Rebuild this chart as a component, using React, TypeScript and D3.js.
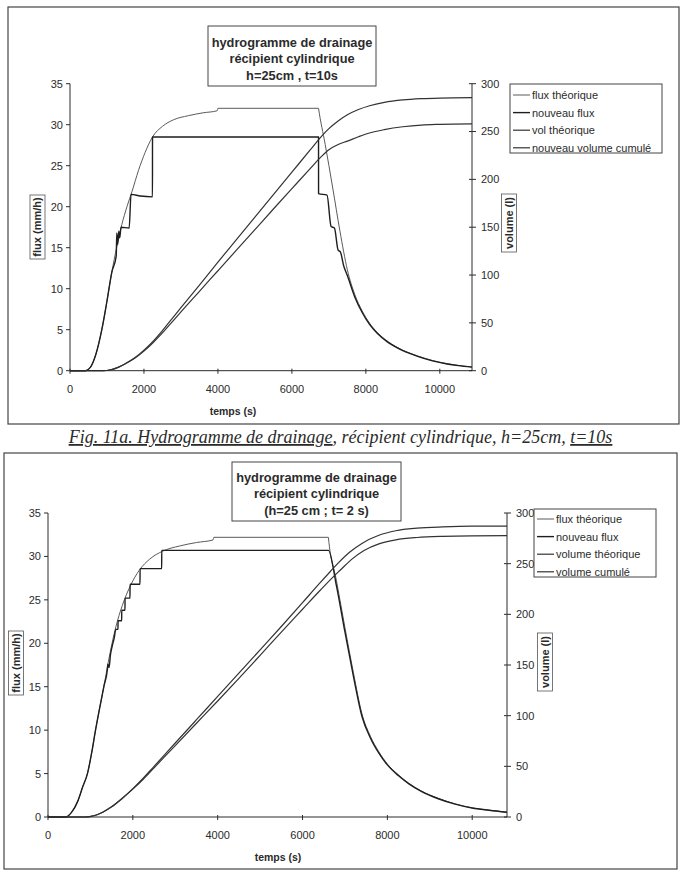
import React from 'react';
import * as d3 from 'd3';

type Pt = [number, number];

// Fig. 11a : pas de temps t = 10 s  (temps en s, flux en mm/h, volume en l)
const fluxTheo10: Pt[] = [
  [0, 0], [420, 0], [550, 0.4], [700, 2.0], [860, 5.0], [1000, 8.5], [1130, 12.0], [1260, 15.0],
  [1400, 17.8], [1540, 20.0], [1680, 21.9], [1850, 24.4], [2030, 26.6], [2230, 28.5], [2500, 29.8],
  [2800, 30.6], [3200, 31.1], [3600, 31.45], [3980, 31.7], [4000, 32.0], [6720, 32.0], [6721, 31.97],
  [6900, 27.6], [7100, 22.4], [7300, 17.0], [7500, 12.3], [7700, 9.3], [7900, 7.3], [8100, 5.8],
  [8300, 4.7], [8600, 3.55], [9000, 2.5], [9400, 1.8], [9800, 1.25], [10200, 0.85], [10500, 0.65],
  [10870, 0.45],
];
const nouveauFlux10: Pt[] = [
  [0, 0], [420, 0], [550, 0.4], [700, 2.0], [860, 5.0], [1000, 8.5], [1130, 12.0], [1250, 14.0],
  [1265, 16.8], [1290, 15.4], [1320, 17.0], [1345, 16.2], [1380, 17.5], [1600, 17.4], [1650, 21.5],
  [1900, 21.3], [2230, 21.2], [2231, 28.5], [6720, 28.5], [6721, 21.6], [6950, 21.4], [7060, 17.6],
  [7150, 17.4], [7250, 14.7], [7310, 14.5], [7400, 12.8], [7500, 11.6], [7700, 9.0], [7900, 7.1],
  [8100, 5.65], [8300, 4.6], [8600, 3.45], [9000, 2.45], [9400, 1.75], [9800, 1.2], [10200, 0.82],
  [10500, 0.62], [10870, 0.43],
];
const volTheo10: Pt[] = [
  [0, 0], [900, 0], [1100, 1], [1300, 3.5], [1500, 7.5], [1750, 13.5], [2000, 21.5], [2250, 31],
  [2500, 42], [2750, 54], [3000, 66], [3500, 89.5], [4000, 113.5], [4500, 137], [5000, 160.5],
  [5500, 184], [6000, 207.5], [6500, 231], [6800, 245], [7000, 253], [7250, 261], [7500, 267.5],
  [7800, 273], [8100, 277], [8500, 280.5], [9000, 283], [9500, 284.3], [10000, 285], [10870, 285.5],
];
const volNouveau10: Pt[] = [
  [0, 0], [900, 0], [1100, 1], [1300, 3.5], [1500, 7.3], [1750, 13], [2000, 20.5], [2250, 29.5],
  [2500, 39.5], [2750, 50.5], [3000, 61.5], [3500, 83], [4000, 104.5], [4500, 126], [5000, 147.5],
  [5500, 169], [6000, 190.3], [6500, 211.5], [6800, 224], [7000, 231], [7250, 236.5], [7500, 240],
  [7800, 244.5], [8100, 248.5], [8500, 252], [9000, 255], [9500, 256.8], [10000, 257.5], [10870, 258],
];

// Fig. 11b : pas de temps t = 2 s
const fluxTheo2: Pt[] = [
  [0, 0], [420, 0], [550, 0.5], [700, 1.8], [820, 3.5], [930, 5.0], [1030, 7.4], [1120, 10.0],
  [1220, 12.6], [1320, 15.1], [1420, 17.8], [1510, 20.0], [1600, 21.9], [1700, 23.6], [1800, 25.0],
  [1950, 26.7], [2150, 28.4], [2400, 29.7], [2700, 30.6], [3100, 31.2], [3500, 31.6], [3890, 31.9],
  [3910, 32.2], [6610, 32.2], [6611, 32.15], [6800, 27.2], [7000, 21.8], [7200, 16.6], [7400, 11.9],
  [7600, 9.3], [7800, 7.5], [8000, 6.1], [8250, 4.9], [8500, 3.9], [8800, 3.0], [9200, 2.15],
  [9600, 1.5], [10000, 1.05], [10400, 0.78], [10820, 0.55],
];
const nouveauFlux2: Pt[] = [
  [0, 0], [420, 0], [550, 0.5], [700, 1.8], [820, 3.5], [930, 5.0], [1030, 7.4], [1120, 10.0],
  [1220, 12.6], [1320, 15.1], [1400, 17.0], [1410, 17.6], [1440, 17.2], [1470, 18.6], [1510, 19.6],
  [1560, 20.6], [1600, 21.6], [1650, 21.6], [1651, 22.6], [1737, 22.6], [1738, 23.8], [1815, 23.8],
  [1816, 25.2], [1933, 25.2], [1934, 26.8], [2169, 26.8], [2170, 28.6], [2680, 28.6], [2681, 30.7],
  [6610, 30.7], [6800, 26.6], [7000, 21.3], [7200, 16.2], [7400, 11.6], [7600, 9.1], [7800, 7.35],
  [8000, 6.0], [8250, 4.8], [8500, 3.85], [8800, 2.95], [9200, 2.1], [9600, 1.48], [10000, 1.03],
  [10400, 0.77], [10820, 0.54],
];
const volTheo2: Pt[] = [
  [0, 0], [880, 0], [1100, 1.5], [1300, 5], [1500, 10], [1750, 18.5], [2000, 28], [2250, 38.5],
  [2500, 50], [3000, 73], [3500, 96], [4000, 119], [4500, 142], [5000, 165], [5500, 188],
  [6000, 211.5], [6400, 230.5], [6650, 242], [6850, 251], [7100, 261], [7400, 270], [7800, 278],
  [8200, 282.5], [8700, 285], [9300, 286.3], [10000, 287], [10820, 287],
];
const volCumule2: Pt[] = [
  [0, 0], [880, 0], [1100, 1.5], [1300, 5], [1500, 10], [1750, 18.3], [2000, 27.5], [2250, 37.5],
  [2500, 48.5], [3000, 70.5], [3500, 92.5], [4000, 114.5], [4500, 136.8], [5000, 159.5],
  [5500, 182.5], [6000, 205], [6400, 223], [6700, 236], [6900, 244], [7150, 254], [7450, 263],
  [7800, 269.5], [8200, 273.5], [8700, 275.8], [9300, 277], [10000, 277.5], [10820, 277.6],
];

const tempsTicks = [0, 2000, 4000, 6000, 8000, 10000];
const fluxTicks = [0, 5, 10, 15, 20, 25, 30, 35];
const volTicks = [0, 50, 100, 150, 200, 250, 300];

const titre10 = ['hydrogramme de drainage', 'récipient cylindrique', 'h=25cm , t=10s'];
const titre2 = ['hydrogramme de drainage', 'récipient cylindrique', '(h=25 cm ; t= 2 s)'];
const legende10 = ['flux théorique', 'nouveau flux', 'vol théorique', 'nouveau volume cumulé'];
const legende2 = ['flux théorique', 'nouveau flux', 'volume théorique', 'volume cumulé'];

const SANS = "'Liberation Sans', Arial, Helvetica, sans-serif";
const SERIF = "'Liberation Serif', 'Times New Roman', serif";
const INK = '#2b2b2b';

// styles des quatre séries, dans l'ordre de la légende
const seriesStyle = [
  { stroke: '#5a5a5a', width: 1 },
  { stroke: '#1e1e1e', width: 1.4 },
  { stroke: '#333', width: 1.2 },
  { stroke: '#333', width: 1.2 },
];

interface Layout {
  frame: [number, number, number, number];
  left: number;
  right: number;
  top: number;
  bottom: number;
  tMax: number;
  titleBox: [number, number, number, number];
  titleY: number;
  legendBox: [number, number, number, number];
  legendY: number;
  legendStep: number;
  fluxLabel: [number, number];
  volLabel: [number, number];
  temps: [number, number];
}

interface ChartProps {
  layout: Layout;
  titre: string[];
  legende: string[];
  series: Pt[][];
}

const BoxedLabel: React.FC<{ cx: number; cy: number; w: number; text: string }> = ({ cx, cy, w, text }) => (
  <g transform={`translate(${cx},${cy}) rotate(-90)`}>
    <rect x={-w / 2} y={-7.5} width={w} height={15} fill="white" stroke="#555" strokeWidth={0.8} />
    <text textAnchor="middle" dy="0.36em" fontSize={11} fontWeight="bold" fill={INK}>{text}</text>
  </g>
);

const Hydrogramme: React.FC<ChartProps> = ({ layout: L, titre, legende, series }) => {
  const x = d3.scaleLinear().domain([0, L.tMax]).range([L.left, L.right]);
  const yFlux = d3.scaleLinear().domain([0, 35]).range([L.bottom, L.top]);
  const yVol = d3.scaleLinear().domain([0, 300]).range([L.bottom, L.top]);

  const lineFlux = d3.line<Pt>().x(d => x(d[0])).y(d => yFlux(d[1])).curve(d3.curveMonotoneX);
  const lineVol = d3.line<Pt>().x(d => x(d[0])).y(d => yVol(d[1])).curve(d3.curveMonotoneX);

  const [fx0, fy0, fx1, fy1] = L.frame;
  const [tx0, ty0, tx1, ty1] = L.titleBox;
  const [lx0, ly0, lx1, ly1] = L.legendBox;

  return (
    <g fontFamily={SANS}>
      <rect x={fx0} y={fy0} width={fx1 - fx0} height={fy1 - fy0} fill="white" stroke="#444" strokeWidth={1.2} />

      {/* séries */}
      {series.map((s, i) => (
        <path
          key={i}
          d={(i < 2 ? lineFlux(s) : lineVol(s)) || ''}
          fill="none"
          stroke={seriesStyle[i].stroke}
          strokeWidth={seriesStyle[i].width}
          strokeLinejoin="round"
        />
      ))}

      {/* axe des temps */}
      <line x1={L.left} x2={L.right} y1={L.bottom} y2={L.bottom} stroke={INK} strokeWidth={1} />
      {tempsTicks.map(t => (
        <g key={t}>
          <line x1={x(t)} x2={x(t)} y1={L.bottom - 2} y2={L.bottom + 3} stroke={INK} />
          <text x={x(t)} y={L.bottom + 22} textAnchor="middle" fontSize={11} fill={INK}>{t}</text>
        </g>
      ))}
      <text x={L.temps[0]} y={L.temps[1]} textAnchor="middle" fontSize={10.5} fontWeight="bold" fill={INK}>temps (s)</text>

      {/* axe des flux */}
      <line x1={L.left} x2={L.left} y1={L.top} y2={L.bottom} stroke={INK} strokeWidth={1} />
      {fluxTicks.map(v => (
        <g key={v}>
          <line x1={L.left - 4} x2={L.left} y1={yFlux(v)} y2={yFlux(v)} stroke={INK} />
          <text x={L.left - 7} y={yFlux(v)} dy="0.36em" textAnchor="end" fontSize={11} fill={INK}>{v}</text>
        </g>
      ))}
      <BoxedLabel cx={L.fluxLabel[0]} cy={L.fluxLabel[1]} w={64} text="flux (mm/h)" />

      {/* axe des volumes */}
      <line x1={L.right} x2={L.right} y1={L.top} y2={L.bottom} stroke={INK} strokeWidth={1} />
      {volTicks.map(v => (
        <g key={v}>
          <line x1={L.right - 3} x2={L.right + 4} y1={yVol(v)} y2={yVol(v)} stroke={INK} />
          <text x={L.right + 9} y={yVol(v)} dy="0.36em" textAnchor="start" fontSize={11} fill={INK}>{v}</text>
        </g>
      ))}
      <BoxedLabel cx={L.volLabel[0]} cy={L.volLabel[1]} w={58} text="volume (l)" />

      {/* titre */}
      <rect x={tx0} y={ty0} width={tx1 - tx0} height={ty1 - ty0} fill="white" stroke="#444" strokeWidth={1} />
      {titre.map((s, i) => (
        <text key={i} x={(tx0 + tx1) / 2} y={L.titleY + i * 16.5} dy="0.36em" textAnchor="middle"
          fontSize={12.8} fontWeight="bold" fill={INK}>{s}</text>
      ))}

      {/* légende */}
      <rect x={lx0} y={ly0} width={lx1 - lx0} height={ly1 - ly0} fill="white" stroke="#444" strokeWidth={1} />
      {legende.map((s, i) => {
        const yy = L.legendY + i * L.legendStep;
        return (
          <g key={i}>
            <line x1={lx0 + 3} x2={lx0 + 20} y1={yy} y2={yy} stroke={seriesStyle[i].stroke} strokeWidth={seriesStyle[i].width} />
            <text x={lx0 + 22} y={yy} dy="0.36em" fontSize={11} fill={INK}>{s}</text>
          </g>
        );
      })}
    </g>
  );
};

const layout10: Layout = {
  frame: [8, 7, 679, 424],
  left: 70, right: 472, top: 83.7, bottom: 370.7, tMax: 10870,
  titleBox: [208, 26, 376, 86], titleY: 42,
  legendBox: [510, 84, 662, 153], legendY: 95, legendStep: 17.6,
  fluxLabel: [37.5, 227], volLabel: [509, 223],
  temps: [233, 415],
};

const layout2: Layout = {
  frame: [4, 453, 677, 869],
  left: 48, right: 507, top: 513, bottom: 817, tMax: 10820,
  titleBox: [232, 462, 401, 521], titleY: 477,
  legendBox: [534, 509, 656, 577], legendY: 519, legendStep: 17.6,
  fluxLabel: [16, 663], volLabel: [545, 662],
  temps: [278, 861],
};

export default function App() {
  return (
    <div style={{ position: 'absolute', left: 0, top: 0 }}>
      <svg width={687} height={872} viewBox="0 0 687 872" style={{ display: 'block', background: 'white' }}>
        <Hydrogramme layout={layout10} titre={titre10} legende={legende10}
          series={[fluxTheo10, nouveauFlux10, volTheo10, volNouveau10]} />
        <text x={340.5} y={443} textAnchor="middle" fontFamily={SERIF} fontStyle="italic" fontSize={18} fill={INK}>
          <tspan textDecoration="underline">Fig. 11a. Hydrogramme de drainage</tspan>
          <tspan>, récipient cylindrique, h=25cm, </tspan>
          <tspan textDecoration="underline">t=10s</tspan>
        </text>
        <Hydrogramme layout={layout2} titre={titre2} legende={legende2}
          series={[fluxTheo2, nouveauFlux2, volTheo2, volCumule2]} />
      </svg>
    </div>
  );
}
